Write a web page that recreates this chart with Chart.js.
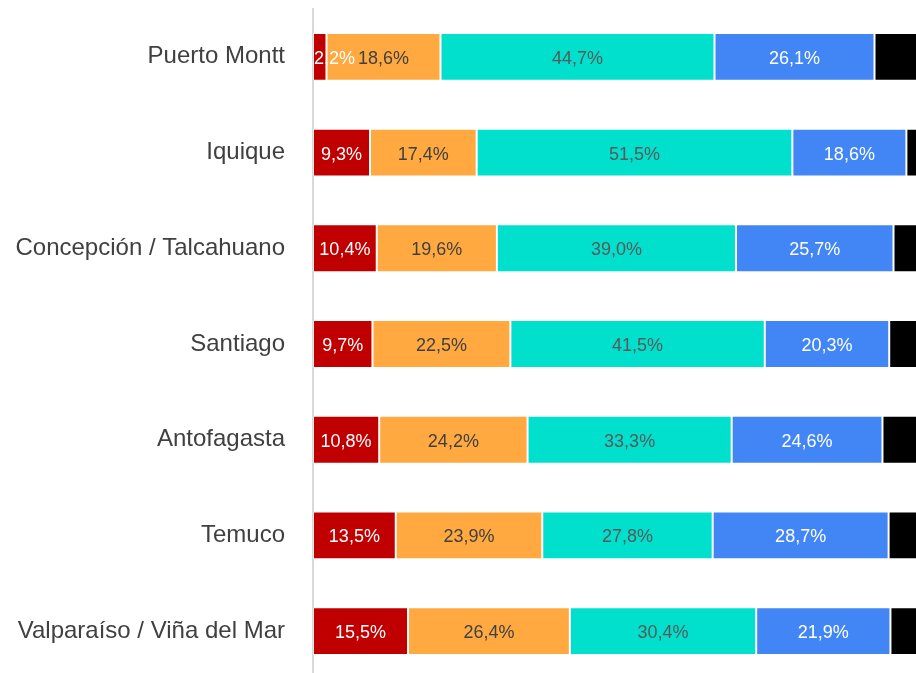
<!DOCTYPE html>
<html>
<head>
<meta charset="utf-8">
<script src="https://cdn.jsdelivr.net/npm/chart.js@4.4.0/dist/chart.umd.min.js"></script>
<style>
  html, body { margin: 0; padding: 0; background: #fff; overflow: hidden; }
  canvas { display: block; }
</style>
</head>
<body>
<canvas id="cityChart" width="926" height="679"></canvas>
<script>
const cities = ['Puerto Montt', 'Iquique', 'Concepción / Talcahuano', 'Santiago', 'Antofagasta', 'Temuco', 'Valparaíso / Viña del Mar'];

const seriesRed = [2.2, 9.3, 10.4, 9.7, 10.8, 13.5, 15.5];
const seriesOrange = [18.6, 17.4, 19.6, 22.5, 24.2, 23.9, 26.4];
const seriesTeal = [44.7, 51.5, 39.0, 41.5, 33.3, 27.8, 30.4];
const seriesBlue = [26.1, 18.6, 25.7, 20.3, 24.6, 28.7, 21.9];
const seriesBlack = [8.4, 3.2, 5.3, 6.0, 7.1, 6.1, 5.8];

const colors = ['#c00000', '#ffa940', '#00e0cc', '#4285f4', '#000000'];
const labelColors = ['#ffffff', '#404040', '#595959', '#ffffff', null];

// draws the value in the middle of each segment, kept inside the plot on the left
const segmentLabels = {
    id: 'segmentLabels',
    afterDatasetsDraw(chart) {
        const ctx = chart.ctx;
        const area = chart.chartArea;
        ctx.save();
        ctx.font = '18px "Liberation Sans", Arial, sans-serif';
        ctx.textBaseline = 'middle';
        ctx.textAlign = 'left';
        chart.data.datasets.forEach((ds, i) => {
            if (!labelColors[i]) return;
            const meta = chart.getDatasetMeta(i);
            meta.data.forEach((bar, j) => {
                const txt = ds.data[j].toFixed(1).replace('.', ',') + '%';
                const w = ctx.measureText(txt).width;
                const mid = (bar.x + bar.base) / 2;
                let x = mid - w / 2;
                if (x < area.left) x = area.left + 1;
                ctx.fillStyle = labelColors[i];
                ctx.fillText(txt, x, bar.y + 2);
            });
        });
        ctx.restore();
    }
};

const makeSet = (label, data, i) => ({
    label: label,
    data: data,
    backgroundColor: colors[i],
    borderColor: 'rgba(255,255,255,0.35)',
    borderWidth: 1,
    borderSkipped: false,
    categoryPercentage: 1,
    barPercentage: 0.5
});

const chart = new Chart(document.getElementById('cityChart'), {
    type: 'bar',
    data: {
        labels: cities,
        datasets: [
            makeSet('A', seriesRed, 0),
            makeSet('B', seriesOrange, 1),
            makeSet('C', seriesTeal, 2),
            makeSet('D', seriesBlue, 3),
            makeSet('E', seriesBlack, 4)
        ]
    },
    options: {
        indexAxis: 'y',
        responsive: false,
        animation: false,
        layout: { padding: { top: 9, left: 0, right: 0, bottom: 0 } },
        plugins: { legend: { display: false }, tooltip: { enabled: false } },
        scales: {
            x: { stacked: true, min: 0, max: 100, display: false },
            y: {
                stacked: true,
                grid: { display: false, drawTicks: false },
                border: { display: true, color: '#d9d9d9', width: 2 },
                ticks: {
                    color: '#404040',
                    padding: 28,
                    font: { family: '"Liberation Sans", Arial, sans-serif', size: 24 }
                },
                afterFit(scale) {
                    scale.width = 313;
                    scale.paddingTop = 0;
                    scale.paddingBottom = 0;
                }
            }
        }
    },
    plugins: [segmentLabels]
});
</script>
</body>
</html>
